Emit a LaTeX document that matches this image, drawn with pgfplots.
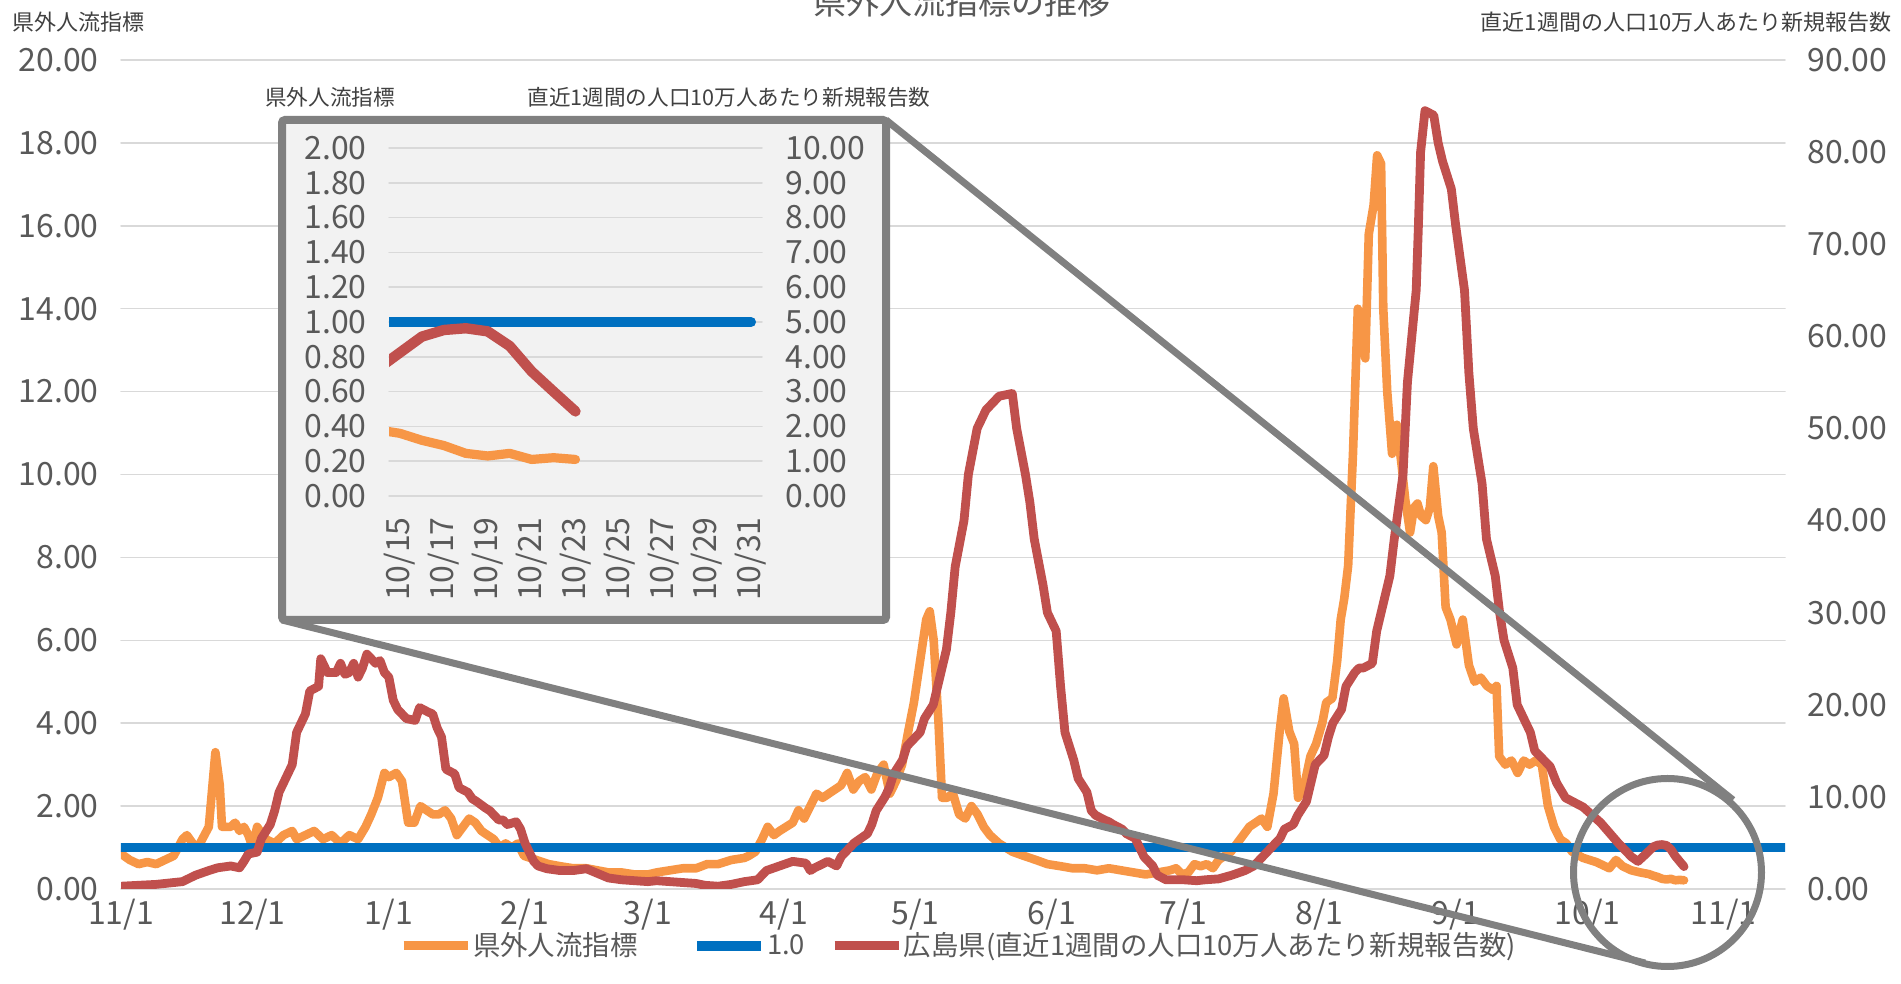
\documentclass[border=0pt]{standalone}
\usepackage{fontspec}
\setmainfont{Noto Sans CJK JP}
\usepackage{pgfplots}
\usepackage{pgfplotstable}
\pgfplotsset{compat=1.18}

\definecolor{cOrange}{HTML}{F79646}
\definecolor{cBlue}{HTML}{0070C0}
\definecolor{cRed}{HTML}{C0504D}
\definecolor{cGray}{HTML}{808080}
\definecolor{cGrid}{HTML}{D9D9D9}
\definecolor{cText}{HTML}{595959}
\definecolor{cTitle}{HTML}{404040}
\definecolor{cPanel}{HTML}{F2F2F2}

% day 0 = 11/1
\pgfplotstableread{
day val
0 0.85
2 0.7
4 0.6
6 0.65
8 0.6
10 0.7
12 0.8
14 1.2
15 1.3
17 1.0
18 1.1
19 1.3
20 1.5
21.5 3.3
22.5 2.5
23 1.5
25 1.5
26 1.6
27 1.4
28 1.5
29 1.3
30 1.0
31 1.5
33 1.2
35 1.1
37 1.3
39 1.4
40 1.2
42 1.3
44 1.4
46 1.2
48 1.3
50 1.1
52 1.3
54 1.2
55.7 1.5
57 1.8
58.5 2.2
60 2.8
61 2.7
62.7 2.8
64 2.6
65.4 1.6
66.8 1.6
68.2 2.0
69.6 1.9
71 1.8
72.4 1.8
73.8 1.9
75.2 1.7
76.5 1.3
77.9 1.5
79.3 1.7
80.7 1.6
82.1 1.4
83.5 1.3
84.9 1.2
86.3 1.0
87.6 1.1
89 1.0
90.4 1.1
91.8 0.8
94.6 0.7
97.4 0.6
100 0.55
103 0.5
106 0.5
108.5 0.45
111 0.4
114 0.4
117 0.35
120 0.35
122 0.4
125 0.45
128 0.5
131 0.5
133.5 0.6
136 0.6
139 0.7
142 0.75
143 0.8
144.5 0.9
146 1.2
147.3 1.5
148.7 1.3
150 1.4
151.5 1.5
153 1.6
154.3 1.9
155.6 1.7
157 2.0
158.4 2.3
159.8 2.2
161.2 2.3
162.6 2.4
164 2.5
165.4 2.8
166.8 2.4
168.1 2.6
169.5 2.7
170.9 2.4
172.3 2.8
173.7 3.0
175.1 2.3
176.5 2.6
177.9 3.0
179.3 3.8
180.6 4.5
182 5.5
183.4 6.5
184.2 6.7
185.1 6.0
186.2 4.0
187 2.2
188.1 2.2
189.5 2.3
190.9 1.8
192.3 1.7
193.7 2.0
195.1 1.8
196.5 1.5
197.9 1.3
200 1.1
203 0.9
205.6 0.8
208.4 0.7
211 0.6
214 0.55
216.7 0.5
219.5 0.5
222.3 0.45
225 0.5
227.8 0.45
230.6 0.4
233.4 0.35
236.2 0.4
238.9 0.45
240.3 0.5
241.7 0.35
243.1 0.4
244.5 0.6
245.9 0.55
247.3 0.6
248.7 0.5
250 0.7
252.8 0.9
254.2 1.1
255.6 1.3
257 1.5
258.4 1.6
259.8 1.7
261.1 1.5
262.5 2.3
263.9 3.8
264.8 4.6
266.1 3.8
267.2 3.5
268.1 2.2
269.5 2.5
270.9 3.2
272.2 3.5
273.6 4.0
274.5 4.5
275.9 4.6
277 5.5
277.8 6.5
278.6 7.0
279.5 7.8
280.6 10.5
281.7 14.0
282.5 13.5
283.4 12.8
284.2 15.8
285.3 16.5
286.1 17.7
287 17.5
287.5 14
288.4 12
289.5 10.5
290.6 11.2
291.7 10.2
292.5 9.4
293.6 8.6
294.5 9.2
295.3 9.3
296.1 9.0
297.2 8.9
298.1 9.2
298.9 10.2
300 9.0
300.8 8.6
301.7 6.8
302.8 6.5
304.2 5.9
305.6 6.5
307 5.4
308.3 5.0
309.7 5.1
311.1 4.9
312.5 4.8
313.3 4.9
313.9 3.2
315.3 3.0
316.7 3.1
318.1 2.8
319.5 3.1
320.8 3.0
322.2 3.1
323.6 3.0
325 2.0
326.4 1.5
327.8 1.2
329.2 1.1
330.5 0.9
333 0.75
336 0.65
339 0.5
340.5 0.7
342 0.55
344 0.45
346 0.4
347 0.38
348 0.36
349 0.32
350 0.29
351 0.245
352 0.23
353 0.245
354 0.21
355 0.22
356 0.21
}\orangemain

\pgfplotstableread{
day val
0 0.3
8 0.5
14 0.8
17 1.5
20 2.0
22 2.3
25 2.5
27 2.3
28 3.0
29 3.8
31 4.0
32 5.5
34 7.0
35 8.5
36 10.5
38 12.5
39 13.5
40 17
42 19
43 21.5
45 22
45.5 25
46.5 24
47 23.5
49 23.5
50 24.5
51 23.3
52 23.5
53 24.5
54 23.0
55 24.0
56 25.5
57 25
58 24.5
59 24.8
60 23.5
61 23.0
62 20.5
63 19.5
64 19
65 18.5
67 18.3
68 19.7
70 19.2
71 19.0
72 17.5
73 16.5
74 13.0
76 12.5
77 11.0
79 10.5
80 9.8
81 9.5
83 8.8
84 8.5
86 7.5
87 7.5
88 7.0
90 7.3
91 6.5
92 5.0
94 3.0
95 2.5
97 2.2
100 2.0
103 2.0
106 2.2
108 1.8
111 1.2
114 1.0
117 0.9
120 0.8
122 0.9
125 0.8
128 0.7
131 0.6
133 0.4
136 0.3
139 0.5
142 0.8
145 1.0
147 2.0
150 2.5
153 3.0
156 2.8
157 2.0
158 2.3
161 3.0
163 2.5
164 3.5
167 5.0
170 6.0
171 7.0
172 8.5
174 10
175 11
176 12.5
178 14
179 15.5
181 16.5
182 17
183 18.5
185 20
186 22
188 26
189 30
190 35
192 40
193 45
195 50
196 51
197 52
199 53
200 53.5
202 53.7
203 53.8
204 50
206 45
207 42
208 38
210 33
211 30
213 28
214 22
215 17
217 14
218 12
220 10.5
221 8.5
222 8.0
224 7.5
225 7.3
226 7.0
228 6.5
229 6.0
231 5.5
232 4.5
233 3.5
235 2.5
236 1.5
238 1.0
239 1.0
242 1.0
245 0.9
247 1.0
250 1.1
253 1.5
256 2.0
258 2.5
260 3.5
261 4.0
263 5.0
264 5.5
265 6.5
267 7.0
268 8.0
270 9.5
271 11.5
272 13.5
274 14.5
275 16.5
276 18
278 19.5
279 22
281 23.5
282 24
283 24
285 24.5
286 28
288 32
289 34
290 38
292 45
293 55
295 65
295.5 72
296 80
297 84.5
299 84.0
300 81
301 79
303 76
304 72
306 65
307 56
308 50
310 44
311 38
313 34
314 30
315 27
317 24
318 20
320 18
321 17
322 15
325.5 13.3
327 11.5
329 9.9
333 8.9
337 7.2
341 5.0
344 3.5
345.5 3.0
347 3.66
348 4.12
349 4.58
350 4.77
351 4.82
352 4.73
353 4.31
354 3.58
355 3.0
356 2.43
}\redmain

% inset: x = day of October
\pgfplotstableread{
day val
14 0.38
15 0.36
16 0.32
17 0.29
18 0.245
19 0.23
20 0.245
21 0.21
22 0.22
23 0.21
}\orangeinset

\pgfplotstableread{
day val
14 3.66
15 4.12
16 4.58
17 4.77
18 4.82
19 4.73
20 4.31
21 3.58
22 3.0
23 2.43
}\redinset

\pgfplotsset{
  chartbase/.style={
    scale only axis,
    axis line style={draw=none},
    tick style={draw=none},
    major tick length=0pt,
    tick label style={font=\fontsize{16}{19}\selectfont, text=cText, inner sep=0pt},
    /pgf/number format/fixed,
    /pgf/number format/fixed zerofill,
    /pgf/number format/precision=2,
    /pgf/number format/assume math mode=true,
    grid style={cGrid, line width=0.75pt},
    line join=round, line cap=round,
  },
}

\begin{document}
\begin{tikzpicture}

% main chart, left axis
\begin{axis}[chartbase,
  at={(60.5pt,47.5pt)}, anchor=south west,
  width=832pt, height=414.5pt,
  xmin=0, xmax=379, ymin=0, ymax=20,
  ytick={0,2,...,20}, ymajorgrids,
  xtick={0,30,61,92,120,151,181,212,242,273,304,334,365},
  xticklabels={11/1,12/1,1/1,2/1,3/1,4/1,5/1,6/1,7/1,8/1,9/1,10/1,11/1},
  yticklabel shift=11pt, xticklabel shift=5pt,
]
\addplot[cOrange, line width=4.3pt] table {\orangemain};
\addplot[cBlue, line width=4.8pt] coordinates {(0,1) (379,1)};
\end{axis}

% main chart, right axis
\begin{axis}[chartbase,
  at={(60.5pt,47.5pt)}, anchor=south west,
  width=832pt, height=414.5pt,
  xmin=0, xmax=379, ymin=0, ymax=90,
  ytick={0,10,...,90},
  axis y line*=right, hide x axis,
  yticklabel shift=11pt,
  legend columns=3,
  legend image code/.code={%
    \path (-1pt,0pt) -- (31pt,0pt);
    \draw[#1, line cap=round] (2.5pt,0pt) -- (27.5pt,0pt);},
  legend style={draw=none, fill=none, at={(0.503,-0.0685)}, anchor=center,
    font=\fontsize{13.7}{16}\selectfont, text=cText,
    nodes={inner sep=0.5pt},
    /tikz/column 2/.style={column sep=27pt},
    /tikz/column 4/.style={column sep=12pt}},
]
\addlegendimage{cOrange, line width=4.6pt}
\addlegendentry{県外人流指標}
\addlegendimage{cBlue, line width=4.8pt}
\addlegendentry{1.0}
\addplot[cRed, line width=4.4pt] table {\redmain};
\addlegendentry{広島県(直近1週間の人口10万人あたり新規報告数)}
\end{axis}

% inset panel
\draw[cGray, line width=4pt, fill=cPanel, rounded corners=1.5pt] (141pt,182pt) rectangle (443pt,432pt);

\begin{axis}[chartbase,
  at={(194.5pt,244pt)}, anchor=south west,
  width=186.5pt, height=174pt,
  xmin=14.5, xmax=31.5, ymin=0, ymax=2,
  ytick={0,0.2,0.4,0.6,0.8,1.0,1.2,1.4,1.6,1.8,2.0}, ymajorgrids,
  xtick={15,17,...,31},
  xticklabels={10/15,10/17,10/19,10/21,10/23,10/25,10/27,10/29,10/31},
  xticklabel style={rotate=90, anchor=east},
  xticklabel shift=10.5pt, yticklabel shift=11pt,
]
\addplot[cOrange, line width=4.6pt] table {\orangeinset};
\addplot[cBlue, line width=5pt] coordinates {(14,1) (31,1)};
\end{axis}

\begin{axis}[chartbase,
  at={(194.5pt,244pt)}, anchor=south west,
  width=186.5pt, height=174pt,
  xmin=14.5, xmax=31.5, ymin=0, ymax=10,
  ytick={0,1,...,10},
  axis y line*=right, hide x axis,
  yticklabel shift=11.5pt,
]
\addplot[cRed, line width=5.2pt] table {\redinset};
\end{axis}

% zoom connectors
\draw[cGray, line width=3.5pt] (443pt,432pt) -- (866.5pt,92pt);
\draw[cGray, line width=3.5pt] (141pt,182pt) -- (822.5pt,10.5pt);
\draw[cGray, line width=3.5pt] (833.75pt,55.75pt) circle (47pt);

% titles
\node[font=\fontsize{16.5}{20}\selectfont, text=cText] at (481pt,491pt) {県外人流指標の推移};
\node[font=\fontsize{11}{13}\selectfont, text=cTitle] at (39pt,481pt) {県外人流指標};
\node[font=\fontsize{11}{13}\selectfont, text=cTitle, anchor=east, inner sep=0pt] at (946pt,481pt) {直近1週間の人口10万人あたり新規報告数};
\node[font=\fontsize{10.8}{13}\selectfont, text=cTitle] at (165pt,443.5pt) {県外人流指標};
\node[font=\fontsize{10.8}{13}\selectfont, text=cTitle] at (364.5pt,443.5pt) {直近1週間の人口10万人あたり新規報告数};

\pgfresetboundingbox
\path[use as bounding box] (0pt,0pt) rectangle (950.5pt,492pt);
\end{tikzpicture}
\end{document}
